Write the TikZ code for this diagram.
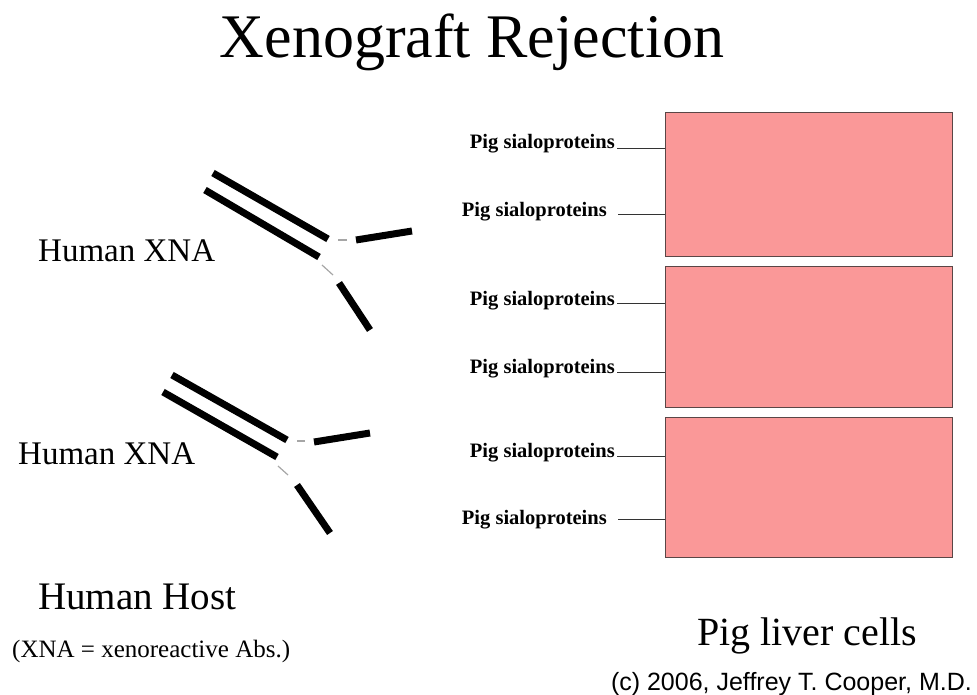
\documentclass[tikz,border=0pt]{standalone}
\usepackage{fontspec}
\setmainfont{Liberation Serif}
\newfontfamily\arialf{Liberation Sans}
\definecolor{cellpink}{RGB}{250,152,152}
\definecolor{cellborder}{RGB}{90,70,70}
\begin{document}
\begin{tikzpicture}[x=1pt,y=-1pt,
  heavy/.style={line width=7pt,black},
  faint/.style={line width=1.2pt,gray!70},
  cellbox/.style={draw=cellborder,line width=1pt,fill=cellpink},
  piglab/.style={font=\fontsize{20.5}{22}\selectfont\bfseries,inner sep=0pt,anchor=east},
  lead/.style={line width=0.8pt,black!80}]
\useasboundingbox (0,0) rectangle (977,695);
\node[anchor=base] (title) at (472,58) {\fontsize{62}{66}\selectfont Xenograft Rejection};
% antibody 1
\coordinate (a1) at (213,173); \coordinate (a2) at (328,239);
\coordinate (a3) at (205,190); \coordinate (a4) at (319,257);
\coordinate (a5) at (338,240); \coordinate (a6) at (347,240);
\coordinate (a7) at (356,240); \coordinate (a8) at (412,231);
\coordinate (a9) at (322,265); \coordinate (a10) at (333,275);
\coordinate (a11) at (339,283); \coordinate (a12) at (370,330);
\draw[heavy] (a1) -- (a2); \draw[heavy] (a3) -- (a4);
\draw[faint] (a5) -- (a6); \draw[heavy] (a7) -- (a8);
\draw[faint] (a9) -- (a10); \draw[heavy] (a11) -- (a12);
% antibody 2
\coordinate (b1) at (172,375); \coordinate (b2) at (287,440);
\coordinate (b3) at (163,392); \coordinate (b4) at (277,457);
\coordinate (b5) at (297,441); \coordinate (b6) at (305,441);
\coordinate (b7) at (314,442); \coordinate (b8) at (370,433);
\coordinate (b9) at (278,466); \coordinate (b10) at (288,475);
\coordinate (b11) at (297,485); \coordinate (b12) at (330,533);
\draw[heavy] (b1) -- (b2); \draw[heavy] (b3) -- (b4);
\draw[faint] (b5) -- (b6); \draw[heavy] (b7) -- (b8);
\draw[faint] (b9) -- (b10); \draw[heavy] (b11) -- (b12);
\node[anchor=base west,inner sep=0pt] (xna1) at (38,261) {\fontsize{33}{36}\selectfont Human XNA};
\node[anchor=base west,inner sep=0pt] (xna2) at (18,464) {\fontsize{33}{36}\selectfont Human XNA};
% cells
\draw[cellbox] (665,113) rectangle (952,256);
\draw[cellbox] (665,266) rectangle (952,407);
\draw[cellbox] (665,417) rectangle (952,557);
\node[piglab] (p1) at (615,144) {Pig sialoproteins};
\node[piglab] (p2) at (607,212) {Pig sialoproteins};
\node[piglab] (p3) at (615,301) {Pig sialoproteins};
\node[piglab] (p4) at (615,369) {Pig sialoproteins};
\node[piglab] (p5) at (615,453) {Pig sialoproteins};
\node[piglab] (p6) at (607,520) {Pig sialoproteins};
\coordinate (e1) at (665,148); \coordinate (e2) at (665,214);
\coordinate (e3) at (665,303); \coordinate (e4) at (665,372);
\coordinate (e5) at (665,456); \coordinate (e6) at (665,519);
\draw[lead] (617,148) -- (e1);
\draw[lead] (618,214) -- (e2);
\draw[lead] (617,303) -- (e3);
\draw[lead] (617,372) -- (e4);
\draw[lead] (617,456) -- (e5);
\draw[lead] (618,519) -- (e6);
\node[anchor=base west,inner sep=0pt] (host) at (38,609) {\fontsize{39}{41}\selectfont Human Host};
\node[anchor=base west,inner sep=0pt] (def) at (12,657) {\fontsize{25}{27}\selectfont (XNA = xenoreactive Abs.)};
\node[anchor=base,inner sep=0pt] (pig) at (807,645) {\fontsize{40}{42}\selectfont Pig liver cells};
\node[anchor=base east,inner sep=0pt] (copy) at (972,690) {\arialf\fontsize{25}{27}\selectfont (c) 2006, Jeffrey T. Cooper, M.D.};
\end{tikzpicture}
\end{document}
